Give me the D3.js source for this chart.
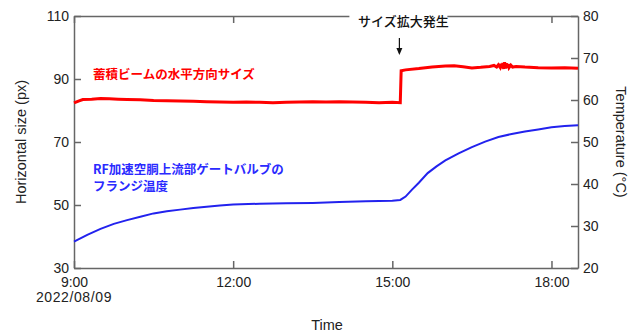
<!DOCTYPE html>
<html>
<head>
<meta charset="utf-8">
<script src="https://cdn.jsdelivr.net/npm/d3@7"></script>
<style>
  body { margin: 0; background: #fff; }
  svg { display: block; font-family: "Liberation Sans", Arial, "Noto Sans CJK JP", sans-serif; }
  .axis path, .axis line { stroke: #666; stroke-width: 1.5; }
  .axis text { font-size: 14px; fill: #222; }
</style>
</head>
<body>
<svg></svg>
<script>
const width = 641;
const height = 333;
const marginLeft = 74;
const marginRight = 63;
const marginTop = 16;
const marginBottom = 65;

// 蓄積ビームの水平方向サイズ (px)
const sizeTimes = ["9:00","9:05","9:10","9:20","9:30","9:40","9:50","10:00","10:15","10:30","10:45","11:00",
  "11:15","11:30","11:45","12:00","12:15","12:30","12:45","13:00","13:15","13:30","13:45","14:00","14:15",
  "14:30","14:45","15:00","15:09","15:10","15:15","15:30","15:45","16:00","16:10","16:20","16:30","16:40",
  "16:50","16:55","16:58","17:00","17:02","17:03","17:04","17:05","17:06","17:07","17:08","17:09","17:10",
  "17:11","17:12","17:14","17:16","17:20","17:30","17:45","18:00","18:15","18:30"];
const sizeValues = [82.4,83.0,83.5,83.6,83.8,83.7,83.6,83.5,83.4,83.2,83.1,83.0,
  82.9,82.8,82.7,82.6,82.7,82.6,82.5,82.6,82.7,82.8,82.7,82.8,82.7,
  82.6,82.5,82.6,82.5,92.6,92.9,93.3,93.8,94.1,94.2,93.9,93.5,93.7,
  94.0,94.3,93.8,94.5,93.7,94.8,93.4,95.1,93.2,95.3,93.3,95.0,93.5,
  94.7,93.6,94.4,93.8,94.0,93.8,93.6,93.5,93.6,93.4];

// フランジ温度 (°C)
const tempTimes = ["9:00","9:15","9:30","9:45","10:00","10:15","10:30","10:45","11:00","11:15","11:30",
  "11:45","12:00","12:30","13:00","13:30","14:00","14:30","15:00","15:09","15:15","15:22","15:30","15:40",
  "15:50","16:00","16:15","16:30","16:45","17:00","17:15","17:30","17:45","18:00","18:15","18:30"];
const tempValues = [26.3,27.9,29.3,30.5,31.4,32.2,33.0,33.5,33.9,34.3,34.6,
  34.9,35.1,35.3,35.4,35.5,35.7,35.9,36.0,36.2,37.0,38.6,40.3,42.6,
  44.2,45.6,47.3,48.8,50.1,51.2,51.9,52.5,53.0,53.5,53.8,54.0];

const xTicks = ["9:00","12:00","15:00","18:00"];
const dateLabel = "2022/08/09";
const leftTicks = [30, 50, 70, 90, 110];
const rightTicks = [20, 30, 40, 50, 60, 70, 80];
const eventTime = "15:08";

const parseT = s => {
  const [h, m] = s.split(":").map(Number);
  return new Date(2022, 7, 9, h, m);
};

const svg = d3.select("svg")
  .attr("width", width)
  .attr("height", height);

const x = d3.scaleTime()
  .domain([parseT("9:00"), parseT("18:30")])
  .range([marginLeft, width - marginRight]);
const yL = d3.scaleLinear().domain([30, 110]).range([height - marginBottom, marginTop]);
const yR = d3.scaleLinear().domain([20, 80]).range([height - marginBottom, marginTop]);

const bottom = height - marginBottom;
const right = width - marginRight;

// axes (ticks inward)
svg.append("g").attr("class", "axis")
  .attr("transform", `translate(0,${bottom})`)
  .call(d3.axisBottom(x).tickValues(xTicks.map(parseT)).tickSize(-7).tickSizeOuter(0)
    .tickPadding(9).tickFormat(d3.timeFormat("%-H:%M")));

svg.append("g").attr("class", "axis")
  .attr("transform", `translate(0,${marginTop})`)
  .call(d3.axisTop(x).tickValues(xTicks.map(parseT)).tickSize(-7).tickSizeOuter(0).tickFormat(""));

svg.append("g").attr("class", "axis")
  .attr("transform", `translate(${marginLeft},0)`)
  .call(d3.axisLeft(yL).tickValues(leftTicks).tickSize(-7).tickSizeOuter(0).tickPadding(5));

svg.append("g").attr("class", "axis")
  .attr("transform", `translate(${right},0)`)
  .call(d3.axisRight(yR).tickValues(rightTicks).tickSize(-7).tickSizeOuter(0).tickPadding(5));

svg.append("text")
  .attr("x", x(parseT("9:00")))
  .attr("y", bottom + 34)
  .attr("text-anchor", "middle")
  .style("font-size", "14px")
  .style("letter-spacing", "0.6px")
  .style("fill", "#222")
  .text(dateLabel);

// lines
const sizeData = sizeTimes.map((t, i) => ({t: parseT(t), v: sizeValues[i]}));
const tempData = tempTimes.map((t, i) => ({t: parseT(t), v: tempValues[i]}));

svg.append("path")
  .datum(tempData)
  .attr("fill", "none")
  .attr("stroke", "#2222ee")
  .attr("stroke-width", 2)
  .attr("d", d3.line().x(d => x(d.t)).y(d => yR(d.v)));

svg.append("path")
  .datum(sizeData)
  .attr("fill", "none")
  .attr("stroke", "#ff0000")
  .attr("stroke-width", 3)
  .attr("d", d3.line().x(d => x(d.t)).y(d => yL(d.v)));

// annotation
const ex = x(parseT(eventTime));
svg.append("rect")
  .attr("x", ex - 50).attr("y", 8)
  .attr("width", 98).attr("height", 18)
  .attr("fill", "#fff");
svg.append("text")
  .attr("x", ex + 4).attr("y", 26)
  .attr("text-anchor", "middle")
  .style("font-family", "'Noto Sans CJK JP', sans-serif")
  .style("font-size", "13px")
  .style("font-weight", "500")
  .style("fill", "#111")
  .text("サイズ拡大発生");
svg.append("line")
  .attr("x1", ex).attr("x2", ex)
  .attr("y1", 38).attr("y2", 53)
  .attr("stroke", "#111").attr("stroke-width", 1.2);
svg.append("path")
  .attr("d", `M${ex - 3},${48} L${ex},${55} L${ex + 3},${48} Z`)
  .attr("fill", "#111");

// series labels
svg.append("text")
  .attr("x", 93).attr("y", 79)
  .style("font-family", "'Noto Sans CJK JP', sans-serif")
  .style("font-size", "12.5px")
  .style("font-weight", "bold")
  .style("fill", "#ff0000")
  .text("蓄積ビームの水平方向サイズ");

svg.append("text")
  .attr("x", 93).attr("y", 174)
  .style("font-family", "'Noto Sans CJK JP', sans-serif")
  .style("font-size", "12.5px")
  .style("font-weight", "bold")
  .style("fill", "#2a2aff")
  .text("RF加速空胴上流部ゲートバルブの");
svg.append("text")
  .attr("x", 93).attr("y", 191)
  .style("font-family", "'Noto Sans CJK JP', sans-serif")
  .style("font-size", "12.5px")
  .style("font-weight", "bold")
  .style("fill", "#2a2aff")
  .text("フランジ温度");

// axis titles
svg.append("text")
  .attr("transform", `translate(21,${(marginTop + bottom) / 2}) rotate(-90)`)
  .attr("text-anchor", "middle")
  .attr("dy", "0.35em")
  .style("font-size", "14.5px")
  .style("fill", "#222")
  .text("Horizontal size (px)");

svg.append("text")
  .attr("transform", `translate(621,${(marginTop + bottom) / 2}) rotate(90)`)
  .attr("text-anchor", "middle")
  .attr("dy", "0.35em")
  .style("font-size", "14.5px")
  .style("fill", "#222")
  .text("Temperature (°C)");

svg.append("text")
  .attr("x", (marginLeft + right) / 2 + 1)
  .attr("y", 330)
  .attr("text-anchor", "middle")
  .style("font-size", "14.5px")
  .style("fill", "#222")
  .text("Time");
</script>
</body>
</html>
